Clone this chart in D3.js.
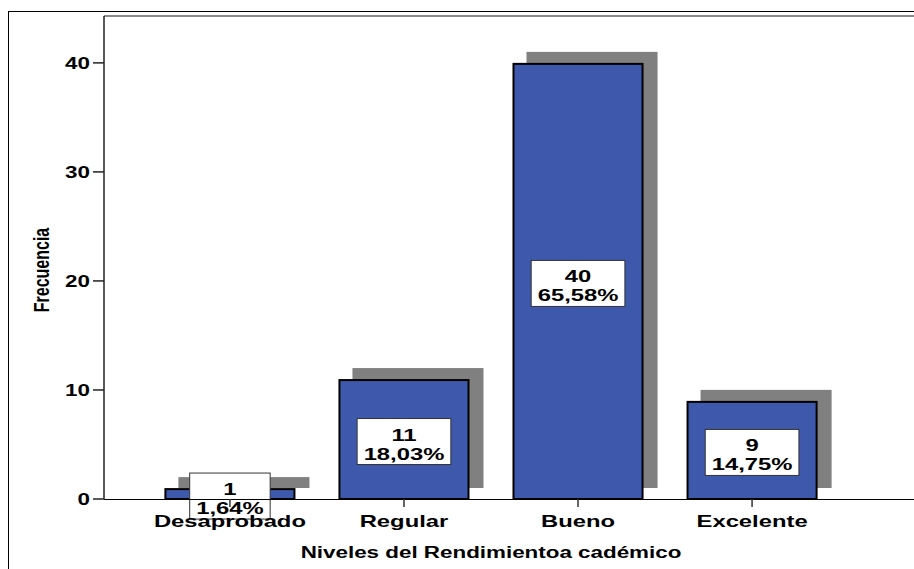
<!DOCTYPE html>
<html><head><meta charset="utf-8">
<script src="https://cdn.jsdelivr.net/npm/d3@7"></script>
<style>body{margin:0;background:#fff}svg{display:block}</style>
</head><body>
<svg id="chart" width="914" height="569"></svg>
<script>
const categories = ["Desaprobado", "Regular", "Bueno", "Excelente"];
const counts = [1, 11, 40, 9];
const percents = ["1,64%", "18,03%", "65,58%", "14,75%"];
const yTicks = [0, 10, 20, 30, 40];
const xTitle = "Niveles del Rendimientoa cadémico";
const yTitle = "Frecuencia";

const SX = 1.4; // horizontal stretch of the original export
const FONT = "'Liberation Sans', Arial, sans-serif";
const svg = d3.select("#chart");

const left = 104, right = 878, baseY = 499, topY = 16;
const x = d3.scaleBand().domain(categories).range([left, right]).paddingInner(0.247).paddingOuter(0.347);
const y = d3.scaleLinear().domain([0, 44.3]).range([baseY, topY]);

// outer frame
svg.append("line").attr("x1", 8).attr("x2", 914).attr("y1", 11.5).attr("y2", 11.5).attr("stroke", "#000").attr("stroke-width", 1);
svg.append("line").attr("x1", 8.5).attr("x2", 8.5).attr("y1", 11).attr("y2", 569).attr("stroke", "#000").attr("stroke-width", 1);
// plot top line
svg.append("line").attr("x1", left).attr("x2", 914).attr("y1", topY).attr("y2", topY).attr("stroke", "#8a8a8a").attr("stroke-width", 2);

const data = categories.map((c, i) => ({c, v: counts[i], p: percents[i]}));
const dx = 14, dy = -11;

// shadows
svg.append("g").selectAll("rect").data(data).join("rect")
  .attr("x", d => x(d.c) + dx).attr("y", d => y(d.v) + dy)
  .attr("width", x.bandwidth()).attr("height", d => baseY - y(d.v))
  .attr("fill", "#808080");

// bars
svg.append("g").selectAll("rect").data(data).join("rect")
  .attr("x", d => x(d.c) + 1).attr("y", d => y(d.v) + 1)
  .attr("width", x.bandwidth() - 2).attr("height", d => baseY - y(d.v) - 1)
  .attr("fill", "#3e58ab").attr("stroke", "#000").attr("stroke-width", 2);

// labels
const lg = svg.append("g").selectAll("g").data(data).join("g")
  .attr("transform", d => `translate(${x(d.c) + x.bandwidth() / 2},${(y(d.v) + baseY) / 2 + 2.5})`);
const boxes = lg.append("rect").attr("fill", "#fff").attr("stroke", "#333").attr("stroke-width", 1);
const t1 = lg.append("text").attr("text-anchor", "middle").attr("font-family", FONT).attr("font-weight", "bold")
  .attr("font-size", 17).attr("transform", `translate(0,-1) scale(${SX},1)`).text(d => d.v);
const t2 = lg.append("text").attr("text-anchor", "middle").attr("font-family", FONT).attr("font-weight", "bold")
  .attr("font-size", 17).attr("transform", `translate(0,18) scale(${SX},1)`).text(d => d.p);
boxes.each(function(d, i) {
  const w = t2.nodes()[i].getBBox().width * SX + 13;
  d3.select(this).attr("x", -w / 2).attr("y", -23).attr("width", w).attr("height", 46);
});

// x axis
svg.append("line").attr("x1", left).attr("x2", 914).attr("y1", baseY + 0.5).attr("y2", baseY + 0.5).attr("stroke", "#000").attr("stroke-width", 1.2);
const xg = svg.append("g").selectAll("g").data(categories).join("g")
  .attr("transform", c => `translate(${x(c) + x.bandwidth() / 2},0)`);
xg.append("line").attr("y1", baseY).attr("y2", baseY + 8).attr("stroke", "#333").attr("stroke-width", 1.5);
xg.append("text").attr("text-anchor", "middle").attr("font-family", FONT).attr("font-weight", "bold").attr("font-size", 17)
  .attr("transform", `translate(0,527) scale(${SX},1)`).text(c => c);

// y axis
svg.append("line").attr("x1", left).attr("x2", left).attr("y1", topY).attr("y2", baseY).attr("stroke", "#222").attr("stroke-width", 1.5);
const yg = svg.append("g").selectAll("g").data(yTicks).join("g")
  .attr("transform", t => `translate(0,${y(t)})`);
yg.append("line").attr("x1", 93).attr("x2", left).attr("stroke", "#222").attr("stroke-width", 1.5);
yg.append("text").attr("text-anchor", "end").attr("font-family", FONT).attr("font-weight", "bold").attr("font-size", 16)
  .attr("transform", `translate(90,6) scale(${SX},1)`).text(t => t);

// titles
svg.append("text").attr("text-anchor", "middle").attr("font-family", FONT).attr("font-weight", "bold").attr("font-size", 16)
  .attr("transform", `translate(${(left + right) / 2},558) scale(${SX},1)`).text(xTitle);
svg.append("text").attr("text-anchor", "middle").attr("font-family", FONT).attr("font-weight", "bold").attr("font-size", 16)
  .attr("transform", `translate(49,270) scale(${SX},1) rotate(-90)`).text(yTitle);
</script>
</body></html>
